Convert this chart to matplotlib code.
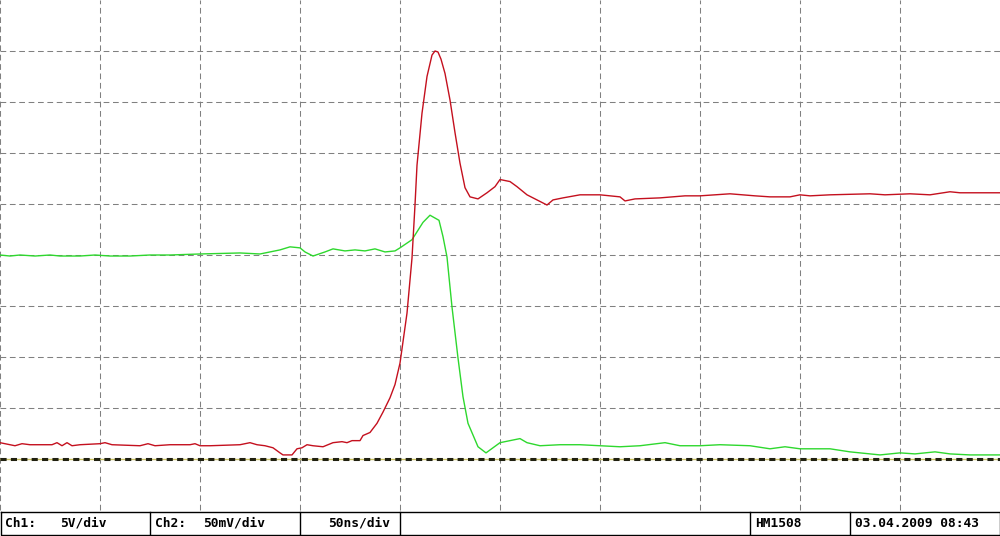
import matplotlib
matplotlib.use("Agg")
import matplotlib.pyplot as plt

# Ch1 (5 V/div) - red trace, time in ns, volts
ch1_t = [0, 7.5, 11, 15, 26, 28.5, 31, 33.5, 36, 40, 50, 52.5, 56, 70, 74, 77.5,
         85, 95, 97.5, 100, 105, 120, 125, 128.5, 132.5, 136.5, 140, 141.5, 146,
         148.5, 151, 153.5, 156.5, 161.5, 166.5, 171, 173.5, 176, 180, 181.5, 185,
         188.5, 191.5, 195, 197.5, 200, 203.5, 206, 207.5, 208.5, 211, 213.5,
         216, 217.5, 219, 220.5, 222.5, 225, 227.5, 230, 232.5, 235, 239, 243.5, 247.5,
         250, 255, 258.5, 263.5, 268.5, 273.5, 276.5, 281.5, 290, 300, 310, 312.5,
         317.5, 330, 342.5, 350, 365, 377.5, 385, 395, 400, 405, 415, 435, 442.5,
         455, 465, 475, 480, 500]
ch1_v = [1.6, 1.3, 1.5, 1.4, 1.4, 1.6, 1.3, 1.6, 1.3, 1.4, 1.5, 1.6, 1.4, 1.3, 1.5, 1.3,
         1.4, 1.4, 1.5, 1.3, 1.3, 1.4, 1.6, 1.4, 1.3, 1.1, 0.6, 0.4, 0.4,
         1.0, 1.1, 1.4, 1.3, 1.2, 1.6, 1.7, 1.6, 1.8, 1.8, 2.3, 2.6,
         3.5, 4.6, 6.0, 7.3, 9.4, 14.3, 19.7, 24.9, 28.8, 33.9, 37.5,
         39.6, 40.0, 39.9, 39.2, 37.8, 35.2, 32.0, 29.0, 26.6, 25.7, 25.5, 26.1, 26.7,
         27.4, 27.2, 26.7, 25.9, 25.4, 24.9, 25.4, 25.6, 25.9, 25.9, 25.7, 25.3,
         25.5, 25.6, 25.8, 25.8, 26.0, 25.8, 25.7, 25.7, 25.9, 25.8, 25.9, 26.0, 25.9,
         26.0, 25.9, 26.2, 26.1, 26.1]

# Ch2 (50 mV/div) - green trace, time in ns, millivolts
ch2_t = [0, 5, 10, 17.5, 25, 30, 40, 47.5, 55, 65, 75, 85, 100, 120, 130, 140, 145,
         150, 152.5, 156.5, 162.5, 166.5, 172.5, 177.5, 182.5, 187.5, 192.5, 197.5,
         200, 206, 211.5, 215, 219.5, 221.5, 223.5, 226, 229, 231.5, 234, 239, 243,
         250, 260, 263.5, 270, 280, 290, 300, 310, 320, 332.5, 340, 350, 360, 375,
         385, 392.5, 400, 415, 425, 440, 450, 457.5, 467.5, 475, 485, 500]
ch2_mv = [200, 199, 200, 199, 200, 199, 199, 200, 199, 199, 200, 200, 201, 202, 201, 205, 208,
          207, 203, 199, 203, 206, 204, 205, 204, 206, 203, 204,
          207, 215, 232, 239, 234, 218, 198, 149, 99, 61, 35, 12, 6,
          16, 20, 16, 13, 14, 14, 13, 12, 13, 16, 13, 13, 14, 13,
          10, 12, 10, 10, 7, 4, 6, 5, 7, 5, 4, 4]

ch1_scale = 5.0    # V/div
ch2_scale = 50.0   # mV/div
time_scale = 50.0  # ns/div

status_cells = ["Ch1:", "5V/div", "Ch2:", "50mV/div", "50ns/div", "HM1508", "03.04.2009 08:43"]

fig = plt.figure(figsize=(10, 5.36), dpi=100)

# screen area
ax = fig.add_axes([0, 26 / 536, 1, 510 / 536])
ax.set_xlim(0, 10 * time_scale)
ax.set_ylim(-1, 9)
ax.axis("off")

grid_style = dict(color="#808080", lw=0.75, linestyle=(0, (5.5, 3.5)), clip_on=False, zorder=1)
for i in range(10):
    ax.axvline(i * time_scale, **grid_style)
for j in range(1, 9):
    ax.axhline(j, **grid_style)

# ground marker
ax.axhline(0, color="#c8c060", lw=1.0, zorder=2)
ax.axhline(0, color="#202010", lw=2.2, linestyle=(0, (2, 1.4)), zorder=3)

ax.plot(ch2_t, [v / ch2_scale for v in ch2_mv], color="#2ed82e", lw=1.0, zorder=4)
ax.plot(ch1_t, [v / ch1_scale for v in ch1_v], color="#c4101e", lw=1.0, zorder=5)

# status bar
sb = fig.add_axes([0, 0, 1, 26 / 536])
sb.set_xlim(0, 1000)
sb.set_ylim(26, 0)
sb.axis("off")
sb.plot([0.5, 999.5, 999.5, 0.5, 0.5], [2, 2, 25, 25, 2], color="black", lw=1.0, clip_on=False)
for xs in [150, 300, 400, 750, 850]:
    sb.plot([xs, xs], [2, 25], color="black", lw=1.0)

text_x = [5, 60, 155, 203, 328, 755, 855]
for tx, s in zip(text_x, status_cells):
    sb.text(tx, 13.5, s, fontsize=9.3, fontfamily="DejaVu Sans Mono",
            fontweight="bold", va="center", ha="left")

fig.savefig("out.png", dpi=100)
